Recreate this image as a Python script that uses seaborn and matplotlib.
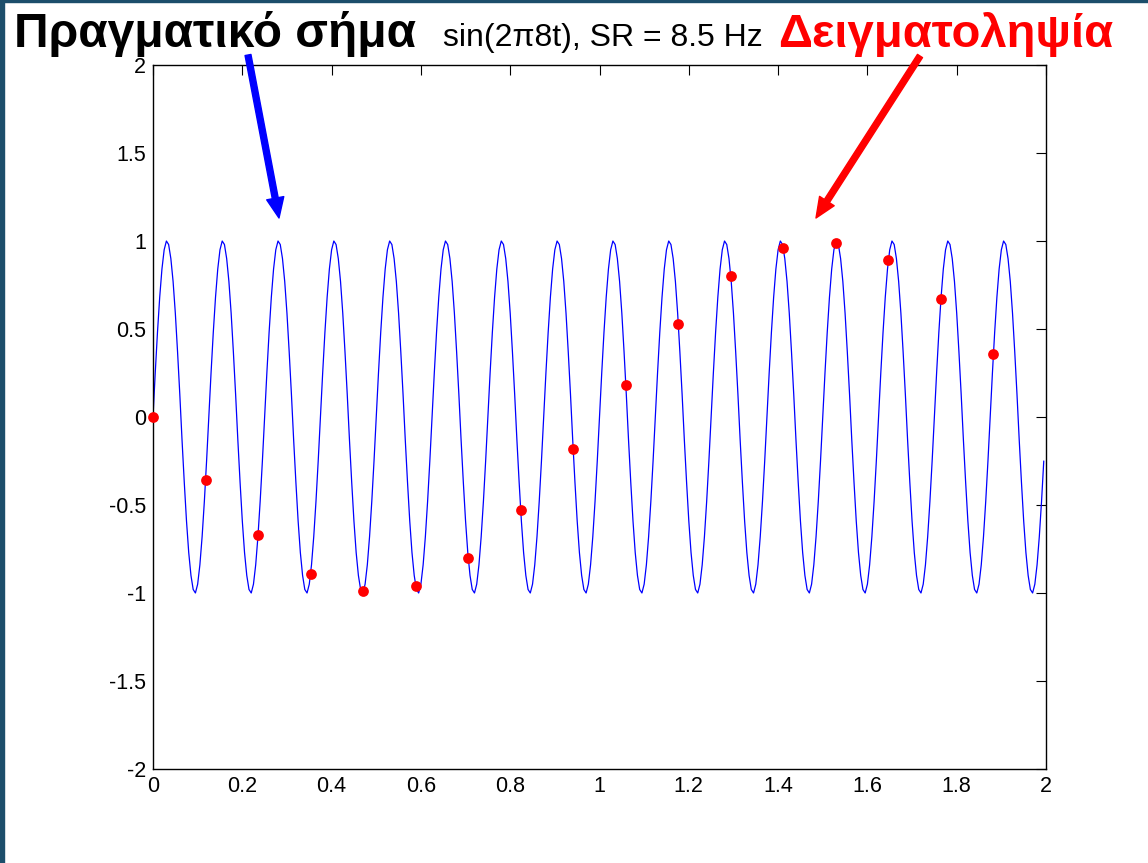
import numpy as np
import pandas as pd
import matplotlib
matplotlib.use("Agg")
import matplotlib.pyplot as plt
import seaborn as sns
from matplotlib.patches import Rectangle

# ---- data ----
# continuous signal: vertex values of the blue curve (step 0.005 s, 16 cycles)
signal_values = [
    0.00, 0.25, 0.48, 0.68, 0.84, 0.95, 1.00, 0.98, 0.90, 0.77, 0.59, 0.37, 0.13, -0.13, -0.37, -0.59, -0.77, -0.90, -0.98, -1.00, -0.95, -0.84, -0.68, -0.48, -0.25,
    0.00, 0.25, 0.48, 0.68, 0.84, 0.95, 1.00, 0.98, 0.90, 0.77, 0.59, 0.37, 0.13, -0.13, -0.37, -0.59, -0.77, -0.90, -0.98, -1.00, -0.95, -0.84, -0.68, -0.48, -0.25,
    0.00, 0.25, 0.48, 0.68, 0.84, 0.95, 1.00, 0.98, 0.90, 0.77, 0.59, 0.37, 0.13, -0.13, -0.37, -0.59, -0.77, -0.90, -0.98, -1.00, -0.95, -0.84, -0.68, -0.48, -0.25,
    0.00, 0.25, 0.48, 0.68, 0.84, 0.95, 1.00, 0.98, 0.90, 0.77, 0.59, 0.37, 0.13, -0.13, -0.37, -0.59, -0.77, -0.90, -0.98, -1.00, -0.95, -0.84, -0.68, -0.48, -0.25,
    0.00, 0.25, 0.48, 0.68, 0.84, 0.95, 1.00, 0.98, 0.90, 0.77, 0.59, 0.37, 0.13, -0.13, -0.37, -0.59, -0.77, -0.90, -0.98, -1.00, -0.95, -0.84, -0.68, -0.48, -0.25,
    0.00, 0.25, 0.48, 0.68, 0.84, 0.95, 1.00, 0.98, 0.90, 0.77, 0.59, 0.37, 0.13, -0.13, -0.37, -0.59, -0.77, -0.90, -0.98, -1.00, -0.95, -0.84, -0.68, -0.48, -0.25,
    0.00, 0.25, 0.48, 0.68, 0.84, 0.95, 1.00, 0.98, 0.90, 0.77, 0.59, 0.37, 0.13, -0.13, -0.37, -0.59, -0.77, -0.90, -0.98, -1.00, -0.95, -0.84, -0.68, -0.48, -0.25,
    0.00, 0.25, 0.48, 0.68, 0.84, 0.95, 1.00, 0.98, 0.90, 0.77, 0.59, 0.37, 0.13, -0.13, -0.37, -0.59, -0.77, -0.90, -0.98, -1.00, -0.95, -0.84, -0.68, -0.48, -0.25,
    0.00, 0.25, 0.48, 0.68, 0.84, 0.95, 1.00, 0.98, 0.90, 0.77, 0.59, 0.37, 0.13, -0.13, -0.37, -0.59, -0.77, -0.90, -0.98, -1.00, -0.95, -0.84, -0.68, -0.48, -0.25,
    0.00, 0.25, 0.48, 0.68, 0.84, 0.95, 1.00, 0.98, 0.90, 0.77, 0.59, 0.37, 0.13, -0.13, -0.37, -0.59, -0.77, -0.90, -0.98, -1.00, -0.95, -0.84, -0.68, -0.48, -0.25,
    0.00, 0.25, 0.48, 0.68, 0.84, 0.95, 1.00, 0.98, 0.90, 0.77, 0.59, 0.37, 0.13, -0.13, -0.37, -0.59, -0.77, -0.90, -0.98, -1.00, -0.95, -0.84, -0.68, -0.48, -0.25,
    0.00, 0.25, 0.48, 0.68, 0.84, 0.95, 1.00, 0.98, 0.90, 0.77, 0.59, 0.37, 0.13, -0.13, -0.37, -0.59, -0.77, -0.90, -0.98, -1.00, -0.95, -0.84, -0.68, -0.48, -0.25,
    0.00, 0.25, 0.48, 0.68, 0.84, 0.95, 1.00, 0.98, 0.90, 0.77, 0.59, 0.37, 0.13, -0.13, -0.37, -0.59, -0.77, -0.90, -0.98, -1.00, -0.95, -0.84, -0.68, -0.48, -0.25,
    0.00, 0.25, 0.48, 0.68, 0.84, 0.95, 1.00, 0.98, 0.90, 0.77, 0.59, 0.37, 0.13, -0.13, -0.37, -0.59, -0.77, -0.90, -0.98, -1.00, -0.95, -0.84, -0.68, -0.48, -0.25,
    0.00, 0.25, 0.48, 0.68, 0.84, 0.95, 1.00, 0.98, 0.90, 0.77, 0.59, 0.37, 0.13, -0.13, -0.37, -0.59, -0.77, -0.90, -0.98, -1.00, -0.95, -0.84, -0.68, -0.48, -0.25,
    0.00, 0.25, 0.48, 0.68, 0.84, 0.95, 1.00, 0.98, 0.90, 0.77, 0.59, 0.37, 0.13, -0.13, -0.37, -0.59, -0.77, -0.90, -0.98, -1.00, -0.95, -0.84, -0.68, -0.48, -0.25,
]
line_step = 0.005

# sampled points (SR = 8.5 Hz)
sample_times = [0.000, 0.118, 0.235, 0.353, 0.471, 0.588, 0.706, 0.824, 0.941,
                1.059, 1.176, 1.294, 1.412, 1.529, 1.647, 1.765, 1.882]
sample_values = [0.00, -0.36, -0.67, -0.89, -0.99, -0.96, -0.80, -0.53, -0.18,
                 0.18, 0.53, 0.80, 0.96, 0.99, 0.89, 0.67, 0.36]

x_ticks = [0, 0.2, 0.4, 0.6, 0.8, 1.0, 1.2, 1.4, 1.6, 1.8, 2.0]
x_tick_labels = ["0", "0.2", "0.4", "0.6", "0.8", "1", "1.2", "1.4", "1.6", "1.8", "2"]
y_ticks = [-2, -1.5, -1, -0.5, 0, 0.5, 1, 1.5, 2]
y_tick_labels = ["-2", "-1.5", "-1", "-0.5", "0", "0.5", "1", "1.5", "2"]

title_text = "Πραγματικό σήμα"
subtitle_text = "sin(2π8t), SR = 8.5 Hz"
sampling_text = "Δειγματοληψία"

# ---- style ----
sns.set_style("white")
plt.rcParams['font.family'] = ['Liberation Sans', 'DejaVu Sans']

W, H = 1148, 863
fig = plt.figure(figsize=(W / 100, H / 100), dpi=100)
fig.patch.set_facecolor("white")

left, right, top, bottom = 153, 1046, 65, 769
ax = fig.add_axes([left / W, 1 - bottom / H, (right - left) / W, (bottom - top) / H])

line_df = pd.DataFrame({
    "t": np.arange(len(signal_values)) * line_step,
    "y": signal_values,
})
sns.lineplot(data=line_df, x="t", y="y", ax=ax, color="#0000FF", lw=0.9,
             estimator=None, sort=False)
sample_df = pd.DataFrame({"t": sample_times, "y": sample_values})
sns.scatterplot(data=sample_df, x="t", y="y", ax=ax, color="#FF0000", s=60,
                linewidth=0, zorder=3, clip_on=False)

ax.set_xlim(0, 2)
ax.set_ylim(-2, 2)
ax.set_xticks(x_ticks, x_tick_labels)
ax.set_yticks(y_ticks, y_tick_labels)
ax.set_xlabel("")
ax.set_ylabel("")
ax.tick_params(direction="in", length=7, width=0.8, top=True, right=True,
               labelsize=15.5, pad=5, colors="black")
for s in ax.spines.values():
    s.set_color("black")
    s.set_linewidth(1.0)
    s.set_visible(True)

# ---- texts ----
fig.text(14 / W, 1 - 47 / H, title_text, fontsize=34.5, fontweight="bold",
         color="black", va="baseline", ha="left")
fig.text(443 / W, 1 - 46 / H, subtitle_text, fontsize=23,
         color="black", va="baseline", ha="left")
fig.text(778 / W, 1 - 47 / H, sampling_text, fontsize=34, fontweight="bold",
         color="#FF0000", va="baseline", ha="left")

# ---- arrows ----
astyle = "simple,head_width=1.25,head_length=1.45,tail_width=0.43"
ax.annotate("", xy=(279, H - 218), xytext=(248, H - 55),
            xycoords="figure pixels", textcoords="figure pixels",
            arrowprops=dict(arrowstyle=astyle, mutation_scale=10,
                            color="#0000FF", shrinkA=0, shrinkB=0),
            annotation_clip=False)
ax.annotate("", xy=(816, H - 218), xytext=(920, H - 56),
            xycoords="figure pixels", textcoords="figure pixels",
            arrowprops=dict(arrowstyle=astyle, mutation_scale=10,
                            color="#FF0000", shrinkA=0, shrinkB=0),
            annotation_clip=False)

# ---- slide frame ----
frame_color = "#1c4e6b"
fig.add_artist(Rectangle((0, 0), 4 / W, 1, transform=fig.transFigure,
                         color=frame_color, zorder=10))
fig.add_artist(Rectangle((0, 1 - 2 / H), 1, 2 / H, transform=fig.transFigure,
                         color=frame_color, zorder=10))

fig.savefig("out.png", dpi=100)
